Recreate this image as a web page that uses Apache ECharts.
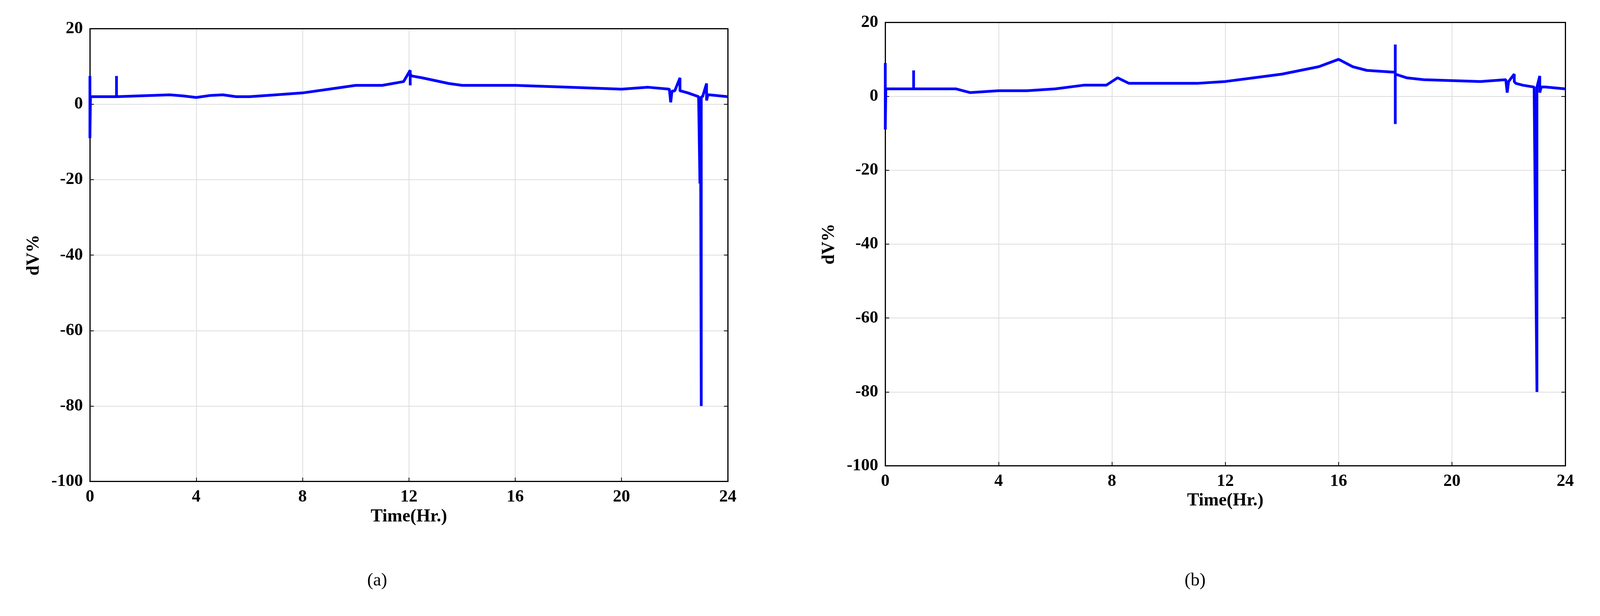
<!DOCTYPE html>
<html>
<head>
<meta charset="utf-8">
<script src="https://cdn.jsdelivr.net/npm/echarts@6/dist/echarts.min.js"></script>
<style>html,body{margin:0;width:100%;height:100%;background:#fff;overflow:hidden}</style>
</head>
<body>
<div id="c" style="width:100%;height:100%"></div>
<script>
var timeA = [0,0,0.02,1,1,1,1.02,3,3.5,4,4.5,5,5.5,6,7,8,9,10,11,11.8,12.05,12.05,12.05,12.1,12.5,13.5,14,16,18,20,21,21.8,21.85,21.9,22,22.2,22.2,22.25,22.5,22.9,22.95,22.97,23,23,23.05,23.2,23.2,23.25,23.3,24];
var valA  = [7.5,-9,2,2,7.5,2,2,2.5,2.2,1.8,2.3,2.5,2,2,2.5,3,4,5,5,6,9,5,8,7.5,7,5.5,5,5,4.5,4,4.5,4,0.5,3.5,3.5,7,3.5,3.5,3,2,-21,2,-80,2,2,5.5,1,2.5,2.5,2];
var timeB = [0,0,0.02,1,1,1,1.02,2.5,3,4,5,6,7,7.8,8.2,8.6,9,11,12,13,14,15.3,16,16.5,17,18,18,18,18,18.4,19,21,21.9,21.95,22,22.2,22.2,22.25,22.5,22.9,23,23,23.1,23.1,23.15,23.3,24];
var valB  = [9,-9,2,2,7,2,2,2,1,1.5,1.5,2,3,3,5,3.5,3.5,3.5,4,5,6,8,10,8,7,6.5,14,-7.5,6,5,4.5,4,4.5,1,4,6,4,3.5,3,2.5,-80,2.5,5.5,1,2.5,2.5,2];

function pairs(t, v) { return t.map(function (x, i) { return [x, v[i]]; }); }

var font = {fontFamily: 'Liberation Serif', fontWeight: 'bold', color: '#000'};
function xAxis(i) {
  return {gridIndex: i, type: 'value', min: 0, max: 24, interval: 4,
    name: 'Time(Hr.)', nameLocation: 'middle', nameGap: 58,
    nameTextStyle: Object.assign({fontSize: 46}, font),
    axisLabel: Object.assign({fontSize: 44, margin: 18}, font),
    axisLine: {onZero: false, lineStyle: {color: '#000', width: 3}},
    axisTick: {inside: true, length: 10, lineStyle: {color: '#000', width: 2}},
    splitLine: {lineStyle: {color: '#ddd', width: 2}}};
}
function xTop(i) {
  return {gridIndex: i, type: 'value', min: 0, max: 24, position: 'top',
    axisLabel: {show: false}, axisTick: {show: false}, splitLine: {show: false},
    axisLine: {onZero: false, lineStyle: {color: '#000', width: 3}}};
}
function yAxis(i) {
  return {gridIndex: i, type: 'value', min: -100, max: 20, interval: 20,
    name: 'dV%', nameLocation: 'middle', nameGap: 120, nameRotate: 90,
    nameTextStyle: Object.assign({fontSize: 46}, font),
    axisLabel: Object.assign({fontSize: 44, margin: 18}, font),
    axisLine: {show: true, onZero: false, lineStyle: {color: '#000', width: 3}},
    axisTick: {inside: true, length: 10, lineStyle: {color: '#000', width: 2}},
    splitLine: {lineStyle: {color: '#ddd', width: 2}}};
}
function yRight(i) {
  return {gridIndex: i, type: 'value', min: -100, max: 20, interval: 20, position: 'right',
    axisLabel: {show: false}, splitLine: {show: false},
    axisTick: {inside: true, length: 10, lineStyle: {color: '#000', width: 2}},
    axisLine: {show: true, onZero: false, lineStyle: {color: '#000', width: 3}}};
}
function line(i, t, v) {
  return {type: 'line', xAxisIndex: i * 2, yAxisIndex: i * 2, data: pairs(t, v),
    showSymbol: false, animation: false,
    lineStyle: {color: '#0000ff', width: 7}};
}

var chart = echarts.init(document.getElementById('c'));
chart.setOption({
  backgroundColor: '#fff',
  grid: [
    {left: '5.62%', width: '39.87%', top: '4.67%', height: '73.5%'},
    {left: '55.33%', width: '42.5%', top: '3.63%', height: '72%'}
  ],
  xAxis: [xAxis(0), xTop(0), xAxis(1), xTop(1)],
  yAxis: [yAxis(0), yRight(0), yAxis(1), yRight(1)],
  title: [
    {text: '(a)', left: '23.45%', top: '92.5%', textAlign: 'center', textStyle: {fontFamily: 'Liberation Serif', fontSize: 46, fontWeight: 'normal', color: '#000'}},
    {text: '(b)', left: '74.57%', top: '92.5%', textAlign: 'center', textStyle: {fontFamily: 'Liberation Serif', fontSize: 46, fontWeight: 'normal', color: '#000'}}
  ],
  series: [line(0, timeA, valA), line(1, timeB, valB)]
});
</script>
</body>
</html>
